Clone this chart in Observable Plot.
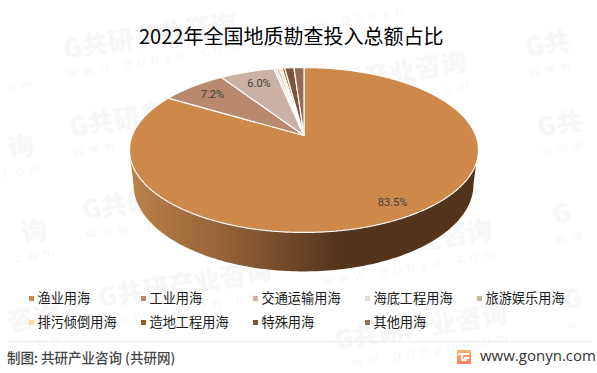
<!DOCTYPE html>
<html><head><meta charset="utf-8">
<script src="https://cdn.jsdelivr.net/npm/d3@7"></script>
<script src="https://cdn.jsdelivr.net/npm/@observablehq/plot@0.6"></script>
<style>
html,body{margin:0;padding:0;background:#fff;width:597px;height:373px;overflow:hidden;font-family:"Noto Sans CJK SC","Noto Sans",sans-serif}
#page{position:relative;width:597px;height:373px;overflow:hidden}
.abs{position:absolute;white-space:nowrap;line-height:1}
.wm{position:absolute;transform-origin:0 50%;transform:rotate(-9deg);white-space:nowrap;line-height:1}
.wm1{font-size:26px;font-weight:900;color:#f7f7f7}
.wm2{font-size:14px;letter-spacing:6px;font-family:"Liberation Sans",sans-serif;color:#f7f7f7}
#chart{position:absolute;left:0;top:50px}
</style></head><body>
<div id="page"></div>
<script>
const categories = ["渔业用海","工业用海","交通运输用海","海底工程用海","旅游娱乐用海","排污倾倒用海","造地工程用海","特殊用海","其他用海"];
const shares = [83.5,7.2,6.0,0.3,0.3,0.3,0.3,1.0,1.1];
const colors = ["#CE8849","#B8896C","#CBB0A4","#E0D8CC","#C8B79B","#FCDDA6","#955B26","#7A5338","#956A53"];
const labelTexts = ["83.5%","7.2%","6.0%"];
const labelX = [0.515,-0.533,-0.262];
const labelY = [-0.839,0.513,0.651];
const watermarkX = [-146,-135,-122,-110, 72,78,91,107, 290,302,314,328,343, 534,546,561,572];
const watermarkY = [92,175,260,345, 52,130,213,300, 7,91,175,259,343, 50,130,217,303];
const watermarkName = "G共研产业咨询";
const watermarkSite = "www.gonyn.com";
const page = document.getElementById("page");

// watermark layer: only whole glyphs that fit inside the page
const wmAngle = 9*Math.PI/180;
function wmRun(str,adv,ox,oy,pad,cls){
  const inside=[...str].map((c,i)=>{
    const a=ox+i*adv*Math.cos(wmAngle), b=oy-i*adv*Math.sin(wmAngle);
    return a>=2 && a+adv<=595 && b-pad>=2 && b+pad<=371;
  });
  const first=inside.indexOf(true), last=inside.lastIndexOf(true);
  if(first<0) return;
  const d=document.createElement("div");d.className="wm "+cls;
  const a=ox+first*adv*Math.cos(wmAngle), b=oy-first*adv*Math.sin(wmAngle);
  d.style.left=a+"px";d.style.top=(b-pad)+"px";d.textContent=str.slice(first,last+1);
  page.appendChild(d);
}
watermarkX.forEach((x,i)=>{
  const y=watermarkY[i];
  wmRun(watermarkName,25.6,x-9,y-2,15,"wm1");
  wmRun(watermarkSite,14.5,x-5,y+22,8,"wm2");
});

// perspective of the tilted disc
const tilt = 0.1758;
const project = (u,v)=>({x:u/(1+tilt*v), y:v/(1+tilt*v)});
const rad = d=>d*Math.PI/180;
const rim = deg=>project(Math.sin(rad(deg)),Math.cos(rad(deg)));

const total = d3.sum(shares);
let acc = 0;
const sliceRows = [];
categories.forEach((name,i)=>{
  const a0 = acc/total*360; acc += shares[i]; const a1 = acc/total*360;
  const n = Math.max(2,Math.ceil((a1-a0)/0.5));
  sliceRows.push({name,...project(0,0)});
  for(let k=0;k<=n;k++) sliceRows.push({name,...rim(a0+(a1-a0)*k/n)});
  sliceRows.push({name,...project(0,0)});
});

// front wall between the top rim and the lower rim
const wallSpread = 0.974, wallStretch = 1.0545, wallDrop = -0.428;
const edge = Math.acos(-tilt)*180/Math.PI;
const wallRows = d3.range(edge,360-edge+0.5,1).map(deg=>{
  const p = rim(deg);
  return {x1:p.x,y1:p.y,x2:p.x*wallSpread,y2:p.y*wallStretch+wallDrop};
});

const labelRows = labelTexts.map((t,i)=>({t,x:labelX[i],y:labelY[i]}));

const gradient = ()=>{
  const ns="http://www.w3.org/2000/svg";
  const defs=document.createElementNS(ns,"defs");
  const g=document.createElementNS(ns,"linearGradient");
  g.setAttribute("id","wall");
  [["0%","#BA8249"],["30%","#8F5F37"],["60%","#55341C"],["100%","#54331B"]].forEach(([o,c])=>{
    const s=document.createElementNS(ns,"stop");s.setAttribute("offset",o);s.setAttribute("stop-color",c);g.appendChild(s);
  });
  defs.appendChild(g);return defs;
};

const chart = Plot.plot({
  width:597,height:235,margin:0,
  style:{background:"transparent"},
  x:{domain:[-1,1],range:[131.7,475.3],axis:null},
  y:{domain:[-1,1],range:[164.9,5.1],axis:null},
  color:{domain:categories,range:colors},
  marks:[
    gradient,
    Plot.area(wallRows,{x1:"x1",y1:"y1",x2:"x2",y2:"y2",fill:"url(#wall)"}),
    Plot.line(sliceRows,{x:"x",y:"y",z:"name",fill:"name",stroke:"#fff",strokeWidth:1.2,strokeLinejoin:"miter",curve:"linear"}),
    Plot.text(labelRows,{x:"x",y:"y",text:"t",fill:"#404040",fontSize:11,fontFamily:"Roboto,sans-serif"})
  ]
});
chart.id="chart";
page.appendChild(chart);

function txt(s,l,t,size,color,extra){
  const d=document.createElement("div");d.className="abs";d.textContent=s;
  d.style.cssText+=`left:${l}px;top:${t}px;font-size:${size}px;color:${color};`+(extra||"");
  page.appendChild(d);return d;
}
txt("2022年全国地质勘查投入总额占比",139,26,20,"#000");

// legend
const legendStep=112, legendLeft=28.5, legendRows=[298,322];
categories.forEach((name,i)=>{
  const col=i%5,row=Math.floor(i/5);
  const x=legendLeft+col*legendStep,y=legendRows[row];
  const m=document.createElement("div");
  m.style.cssText=`position:absolute;left:${x}px;top:${y-2.5}px;width:5px;height:5px;background:${colors[i]}`;
  page.appendChild(m);
  txt(name,x+9,y-7,13.2,"#1a1a1a");
});

// footer
const rule=document.createElement("div");
rule.style.cssText="position:absolute;left:8px;width:583px;top:341px;height:1px;background:#ececec";
page.appendChild(rule);
txt("制图: 共研产业咨询 (共研网)",7,351,13.5,"#444","font-weight:500;");
const logo=document.createElement("div");
logo.style.cssText="position:absolute;left:457px;top:350px;width:14px;height:14px;border-radius:1.5px;background:linear-gradient(#F9B46B,#F37C5B)";
logo.innerHTML='<div style="position:absolute;left:1px;top:3px;width:11px;height:2px;background:#fff"></div><div style="position:absolute;left:4px;top:3px;width:2px;height:8px;background:#fff"></div><div style="position:absolute;left:4px;top:9px;width:6px;height:2px;background:#fff"></div><div style="position:absolute;left:7px;top:6.5px;width:5px;height:2px;background:#fff"></div>';
page.appendChild(logo);
txt("www.gonyn.com",480,348,15,"#333",'font-family:"Open Sans",sans-serif;');
</script>
</body></html>
